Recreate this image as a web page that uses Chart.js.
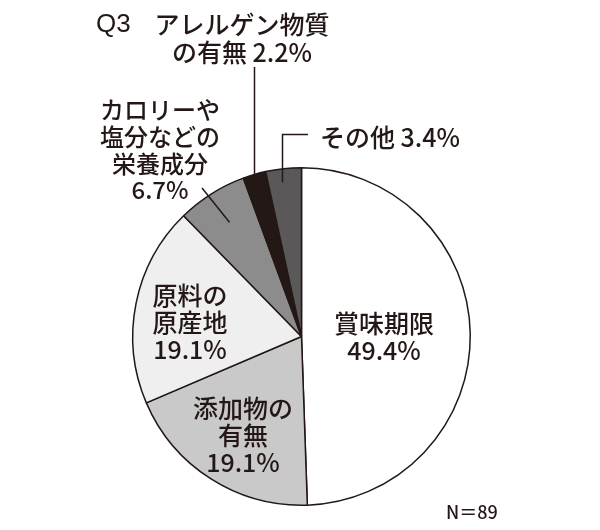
<!DOCTYPE html>
<html>
<head>
<meta charset="utf-8">
<script src="https://cdn.jsdelivr.net/npm/chart.js@4"></script>
<style>
  html, body { margin: 0; padding: 0; background: #fff; }
  canvas { display: block; }
</style>
</head>
<body>
<canvas id="pie" width="600" height="530"></canvas>
<script>
// --- datos ---
const categories = ["賞味期限", "添加物の有無", "原料の原産地", "カロリーや塩分などの栄養成分", "アレルゲン物質の有無", "その他"];
const values = [49.4, 19.1, 19.1, 6.7, 2.2, 3.4];
const sliceColors = ["#ffffff", "#c9c9c9", "#efefef", "#8c8c8c", "#231815", "#5a5858"];
const questionLabel = "Q3";
const sampleNote = "N＝89";

// label text lines per slice (the value goes after them)
const labelLines = [
    ["賞味期限"],
    ["添加物の", "有無"],
    ["原料の", "原産地"],
    ["カロリーや", "塩分などの", "栄養成分"],
    ["アレルゲン物質", "の有無"],
    ["その他"]
];

// layout of label blocks (centre x, first line middle y, line height, font size)
const labelLayout = [
    { x: 384, y: 323, lh: 27, size: 25 },
    { x: 243, y: 408, lh: 27, size: 25 },
    { x: 190, y: 295, lh: 27, size: 25 },
    { x: 160, y: 110, lh: 26.7, size: 24 },
    { x: 242, y: 24, lh: 28, size: 25, inline: true },
    { x: 390, y: 137, lh: 27, size: 25, inline: true }
];

// leader lines: start point near the label, end point inside the slice (fraction of radius)
const leaders = [
    null, null, null,
    { pts: [[202, 188]], r: 0.8 },
    { pts: [[254.5, 67]], r: 0.95, vertical: true },
    { pts: [[308, 134.5], [282.5, 134.5]], r: 0.92, vertical: true }
];

const textColor = "#231815";
const fontFamily = '"Noto Sans CJK JP", "Noto Sans", sans-serif';
const latinFamily = '"Liberation Sans", Arial, sans-serif';

const labelPlugin = {
    id: "sliceLabels",
    afterDraw(chart) {
        const ctx = chart.ctx;
        const arcs = chart.getDatasetMeta(0).data;
        ctx.save();
        ctx.fillStyle = textColor;
        ctx.strokeStyle = textColor;
        ctx.textBaseline = "middle";
        ctx.textAlign = "center";

        // leader lines
        ctx.lineWidth = 1.5;
        leaders.forEach((ld, i) => {
            if (!ld) return;
            const a = arcs[i];
            const mid = (a.startAngle + a.endAngle) / 2;
            let ex = a.x + Math.cos(mid) * a.outerRadius * ld.r;
            let ey = a.y + Math.sin(mid) * a.outerRadius * ld.r;
            const last = ld.pts[ld.pts.length - 1];
            if (ld.vertical) ex = last[0];
            ctx.beginPath();
            ctx.moveTo(ld.pts[0][0], ld.pts[0][1]);
            ld.pts.slice(1).forEach(p => ctx.lineTo(p[0], p[1]));
            ctx.lineTo(ex, ey);
            ctx.stroke();
        });

        // labels
        labelLines.forEach((lines, i) => {
            const lay = labelLayout[i];
            const pct = values[i].toFixed(1) + "%";
            ctx.font = "500 " + lay.size + "px " + fontFamily;
            if (lay.inline) {
                lines.forEach((t, k) => {
                    const txt = k === lines.length - 1 ? t + " " + pct : t;
                    ctx.fillText(txt, lay.x, lay.y + k * lay.lh);
                });
            } else {
                lines.forEach((t, k) => ctx.fillText(t, lay.x, lay.y + k * lay.lh));
                ctx.fillText(pct, lay.x, lay.y + lines.length * lay.lh);
            }
        });

        // question label and sample size
        ctx.textAlign = "left";
        ctx.font = "26px " + latinFamily;
        ctx.fillText(questionLabel, 96, 25);
        ctx.font = "500 18px " + fontFamily;
        ctx.fillText(sampleNote, 446, 512);
        ctx.restore();
    }
};

const ctxPie = document.getElementById("pie").getContext("2d");
new Chart(ctxPie, {
    type: "pie",
    data: {
        labels: categories,
        datasets: [{
            data: values,
            backgroundColor: sliceColors,
            borderColor: "#231815",
            borderWidth: 1.5
        }]
    },
    options: {
        responsive: false,
        animation: false,
        layout: { padding: { left: 132, right: 129, top: 167, bottom: 24 } },
        plugins: {
            legend: { display: false },
            tooltip: { enabled: false }
        }
    },
    plugins: [labelPlugin]
});
</script>
</body>
</html>
